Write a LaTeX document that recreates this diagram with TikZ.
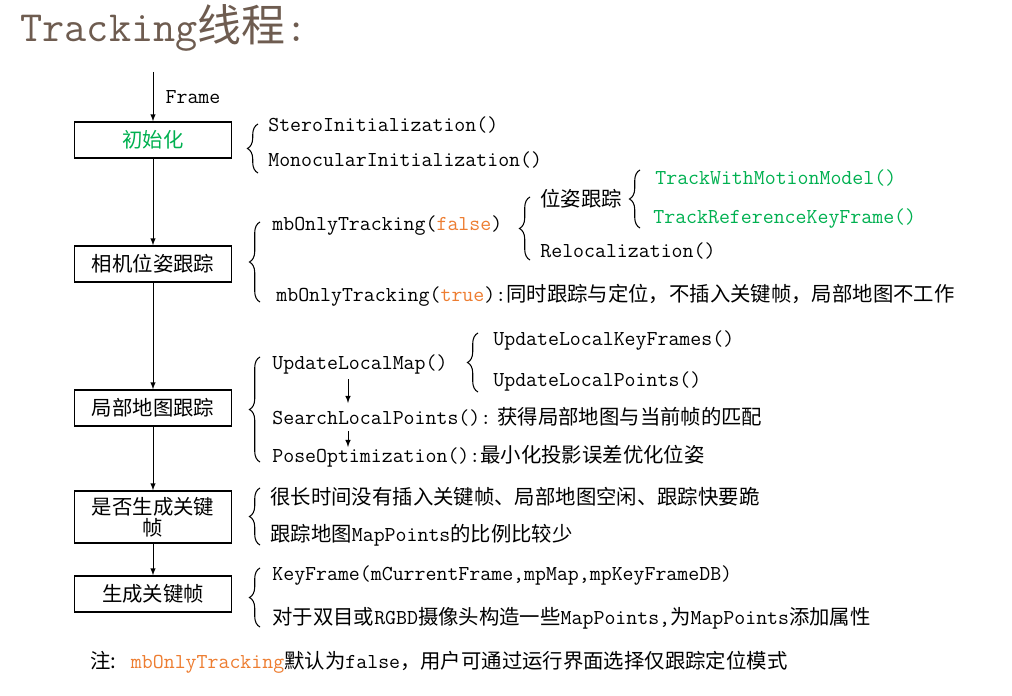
\documentclass[tikz,border=0pt]{standalone}
\usepackage{fontspec}
\newfontfamily\cjk{Noto Sans CJK SC}
\usetikzlibrary{decorations.pathreplacing}
\newcommand\zh[1]{{\cjk\fontsize{11.6pt}{14pt}\selectfont #1}}
\definecolor{tgreen}{RGB}{0,176,80}
\definecolor{torange}{RGB}{237,125,49}
\definecolor{ttitle}{RGB}{110,92,80}

\begin{document}
\begin{tikzpicture}[x=0.02cm,y=-0.02cm,>=latex,
  font=\ttfamily\fontsize{12.1pt}{14pt}\selectfont,
  every node/.style={inner sep=0pt},
  stage/.style={draw,thick,minimum width=3.14cm,minimum height=0.72cm,align=center},
  txt/.style={anchor=west},
  lbrace/.style={decorate,decoration={brace,amplitude=6pt},semithick}]
\useasboundingbox (0,0) rectangle (1012,696);
\node[txt,font=\ttfamily\fontsize{24.5pt}{26pt}\selectfont,text=ttitle] (title) at (20,28) {Tracking{\cjk\fontsize{25pt}{26pt}\selectfont 线程}:};
% stages
\coordinate (in) at (153,72);
\node[stage] (init) at (153,140) {\zh{\textcolor{tgreen}{初始化}}};
\node[stage] (track) at (153,264) {\zh{相机位姿跟踪}};
\node[stage] (local) at (153,408) {\zh{局部地图跟踪}};
\node[stage,minimum height=1.04cm] (need) at (153,517) {\zh{是否生成关键}\\[-2pt]\zh{帧}};
\node[stage] (make) at (153,594) {\zh{生成关键帧}};
\draw[->] (in) -- node[txt,xshift=7pt] (frame) {Frame} (init);
\draw[->] (init) -- (track);
\draw[->] (track) -- (local);
\draw[->] (local) -- (need);
\draw[->] (need) -- (make);
% init
\node[txt] (stereo) at (268,125) {SteroInitialization()};
\node[txt] (mono) at (268,160) {MonocularInitialization()};
\draw[lbrace] (258,173) -- (258,124);
% tracking
\node[txt] (mbf) at (272,226) {mbOnlyTracking(\textcolor{torange}{false})};
\node[txt] (mbt) at (276,295) {mbOnlyTracking(\textcolor{torange}{true}):\zh{同时跟踪与定位，不插入关键帧，局部地图不工作}};
\draw[lbrace] (260,302) -- (260,222);
\node[txt] (pose) at (540,199) {\zh{位姿跟踪}};
\node[txt] (reloc) at (540,251) {Relocalization()};
\draw[lbrace] (530,260) -- (530,197);
\node[txt,text=tgreen] (motion) at (655,178) {TrackWithMotionModel()};
\node[txt,text=tgreen] (refkf) at (653,219) {TrackReferenceKeyFrame()};
\draw[lbrace] (640,228) -- (640,170);
% local map
\node[txt] (ulm) at (272,364) {UpdateLocalMap()};
\node[txt] (slp) at (272,417) {SearchLocalPoints():\zh{ 获得局部地图与当前帧的匹配}};
\node[txt] (popt) at (272,456) {PoseOptimization():\zh{最小化投影误差优化位姿}};
\draw[lbrace] (260,462) -- (260,357);
\node[txt] (ulkf) at (493,341) {UpdateLocalKeyFrames()};
\node[txt] (ulp) at (493,381) {UpdateLocalPoints()};
\draw[lbrace] (478,392) -- (478,333);
\draw[->] (348,379) -- (348,403);
\draw[->] (348,431) -- (348,447);
% keyframe check
\node[txt] (cond1) at (270,497) {\zh{很长时间没有插入关键帧、局部地图空闲、跟踪快要跪}};
\node[txt] (cond2) at (270,535) {\zh{跟踪地图}MapPoints\zh{的比例比较少}};
\draw[lbrace] (260,545) -- (260,488);
% make keyframe
\node[txt] (kf) at (272,576) {KeyFrame(mCurrentFrame,mpMap,mpKeyFrameDB)};
\node[txt] (stereo2) at (272,618) {\zh{对于双目或}RGBD\zh{摄像头构造一些}MapPoints,\zh{为}MapPoints\zh{添加属性}};
\draw[lbrace] (260,627) -- (260,568);
% note
\node[txt] (note) at (90,662) {\zh{注:} \textcolor{torange}{mbOnlyTracking}\zh{默认为}false\zh{，用户可通过运行界面选择仅跟踪定位模式}};
\end{tikzpicture}
\end{document}
